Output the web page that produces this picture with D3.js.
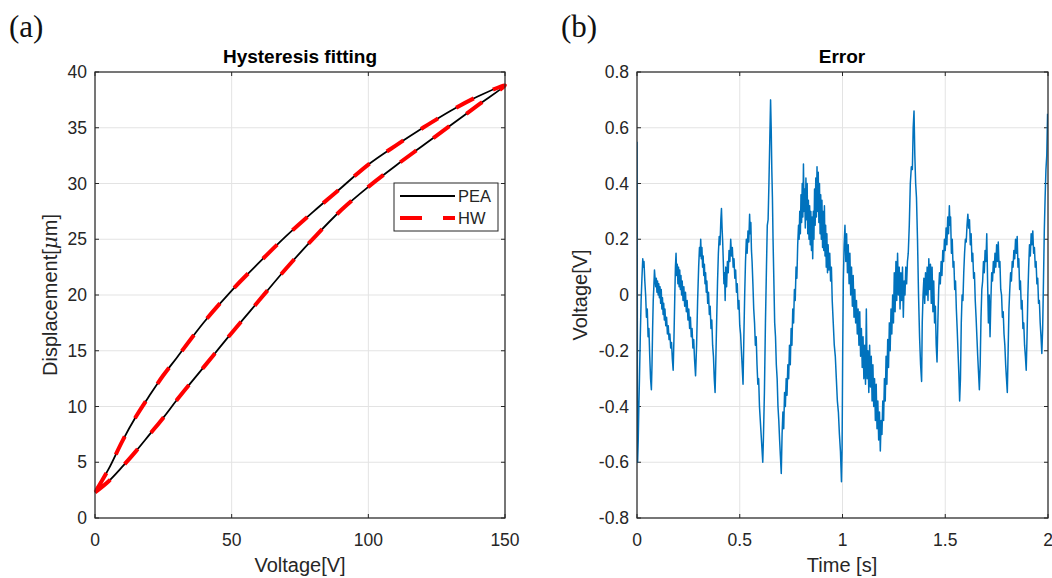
<!DOCTYPE html>
<html lang="en">
<head>
  <meta charset="UTF-8" />
  <title>Hysteresis fitting and error</title>
  <style>
    html, body {
      margin: 0;
      padding: 0;
      background: #fff;
    }
    svg {
      display: block;
      font-family: "Liberation Sans", Arial, sans-serif;
    }
  </style>
</head>
<body>
<svg id="chart" width="1052" height="578"></svg>

<script src="https://cdnjs.cloudflare.com/ajax/libs/d3/7.8.5/d3.min.js"></script>
<script>
  // (a) hysteresis loop
  const hystVoltage = [0, 5, 10, 15, 20, 25, 30, 40, 50, 60, 70, 80, 90, 100, 110, 120, 130, 140, 150];
  const dispRising  = [2.3, 3.3, 4.6, 6.0, 7.5, 9.0, 10.6, 13.6, 16.6, 19.5, 22.4, 25.1, 27.6, 29.7, 31.6, 33.4, 35.2, 37.0, 38.8];
  const dispFalling = [2.3, 4.4, 6.9, 9.1, 11.0, 12.8, 14.4, 17.6, 20.4, 22.9, 25.3, 27.5, 29.6, 31.7, 33.4, 35.0, 36.5, 37.8, 38.8];

  const hystXTicks = [0, 50, 100, 150];
  const hystYTicks = [0, 5, 10, 15, 20, 25, 30, 35, 40];

  // (b) fitting error [time s, voltage V]
  const errorPoints = [
    [0.000, 0.55], [0.001, 0.20], [0.002, -0.35], [0.003, -0.60], [0.006, -0.52], [0.009, -0.40],
    [0.012, -0.30], [0.016, -0.15], [0.020, -0.02], [0.024, 0.06], [0.028, 0.13], [0.031, 0.10],
    [0.034, 0.12], [0.038, 0.05], [0.042, 0.00], [0.046, -0.08], [0.050, -0.05], [0.054, -0.15],
    [0.058, -0.12], [0.062, -0.22], [0.066, -0.30], [0.070, -0.34], [0.073, -0.25], [0.076, -0.12],
    [0.079, -0.02], [0.082, 0.03], [0.085, 0.09], [0.088, 0.06], [0.091, 0.03], [0.094, 0.06],
    [0.097, 0.01], [0.100, 0.05], [0.103, 0.00], [0.106, 0.04], [0.109, -0.01], [0.112, 0.03],
    [0.115, -0.03], [0.118, 0.02], [0.121, -0.05], [0.124, -0.01], [0.127, -0.07], [0.130, -0.03],
    [0.133, -0.09], [0.136, -0.05], [0.140, -0.11], [0.144, -0.08], [0.148, -0.14], [0.152, -0.11],
    [0.156, -0.16], [0.160, -0.14], [0.164, -0.19], [0.168, -0.17], [0.172, -0.23], [0.176, -0.27],
    [0.180, -0.15], [0.184, 0.00], [0.187, 0.10], [0.190, 0.15], [0.193, 0.07], [0.196, 0.11],
    [0.199, 0.04], [0.202, 0.10], [0.205, 0.03], [0.208, 0.09], [0.211, 0.02], [0.214, 0.07],
    [0.217, 0.00], [0.220, 0.05], [0.224, -0.02], [0.228, 0.03], [0.232, -0.04], [0.236, 0.01],
    [0.240, -0.06], [0.244, -0.02], [0.248, -0.09], [0.252, -0.05], [0.256, -0.12], [0.260, -0.08],
    [0.264, -0.15], [0.268, -0.12], [0.272, -0.19], [0.276, -0.16], [0.280, -0.23], [0.285, -0.29],
    [0.290, -0.18], [0.295, -0.02], [0.300, 0.10], [0.304, 0.17], [0.307, 0.14], [0.310, 0.20],
    [0.313, 0.13], [0.316, 0.17], [0.319, 0.10], [0.322, 0.14], [0.325, 0.07], [0.328, 0.11],
    [0.331, 0.04], [0.334, 0.08], [0.337, 0.01], [0.340, 0.05], [0.344, -0.03], [0.348, 0.01],
    [0.352, -0.07], [0.356, -0.04], [0.360, -0.12], [0.364, -0.09], [0.368, -0.18], [0.372, -0.22],
    [0.376, -0.30], [0.380, -0.35], [0.384, -0.22], [0.388, -0.08], [0.392, 0.05], [0.396, 0.15],
    [0.400, 0.21], [0.404, 0.18], [0.408, 0.27], [0.411, 0.31], [0.414, 0.24], [0.417, 0.19],
    [0.420, 0.12], [0.423, 0.04], [0.426, 0.08], [0.429, -0.02], [0.432, 0.10], [0.436, 0.03],
    [0.440, 0.12], [0.444, 0.08], [0.448, 0.16], [0.452, 0.12], [0.456, 0.20], [0.460, 0.14],
    [0.464, 0.17], [0.468, 0.10], [0.472, 0.13], [0.476, 0.06], [0.480, 0.09], [0.484, 0.01],
    [0.488, 0.04], [0.492, -0.05], [0.496, -0.02], [0.500, -0.11], [0.504, -0.14], [0.508, -0.20],
    [0.512, -0.26], [0.516, -0.32], [0.520, -0.15], [0.524, 0.00], [0.528, 0.12], [0.532, 0.20],
    [0.536, 0.15], [0.540, 0.23], [0.544, 0.19], [0.548, 0.29], [0.551, 0.22], [0.554, 0.26],
    [0.557, 0.16], [0.560, 0.12], [0.564, 0.04], [0.568, -0.05], [0.572, -0.10], [0.576, -0.18],
    [0.580, -0.15], [0.584, -0.25], [0.588, -0.32], [0.592, -0.30], [0.596, -0.40], [0.600, -0.45],
    [0.604, -0.50], [0.608, -0.55], [0.612, -0.60], [0.615, -0.52], [0.620, -0.35], [0.625, -0.10],
    [0.630, 0.10], [0.634, 0.25], [0.638, 0.27], [0.642, 0.40], [0.646, 0.55], [0.650, 0.70],
    [0.653, 0.60], [0.656, 0.45], [0.659, 0.35], [0.662, 0.20], [0.666, 0.05], [0.670, -0.10],
    [0.674, -0.15], [0.678, -0.25], [0.682, -0.30], [0.686, -0.40], [0.690, -0.45], [0.694, -0.52],
    [0.698, -0.58], [0.702, -0.64], [0.706, -0.50], [0.710, -0.42], [0.714, -0.48], [0.718, -0.35],
    [0.722, -0.40], [0.726, -0.30], [0.730, -0.36], [0.734, -0.25], [0.738, -0.30], [0.742, -0.18],
    [0.746, -0.25], [0.750, -0.12], [0.754, -0.18], [0.758, -0.05], [0.762, -0.10], [0.766, 0.02],
    [0.770, -0.02], [0.774, 0.10], [0.778, 0.06], [0.782, 0.18], [0.786, 0.25], [0.789, 0.20],
    [0.792, 0.30], [0.795, 0.22], [0.798, 0.36], [0.801, 0.26], [0.804, 0.40], [0.807, 0.28],
    [0.810, 0.47], [0.813, 0.30], [0.816, 0.38], [0.819, 0.24], [0.822, 0.42], [0.825, 0.27],
    [0.828, 0.40], [0.831, 0.22], [0.834, 0.34], [0.837, 0.20], [0.840, 0.32], [0.843, 0.18],
    [0.846, 0.30], [0.849, 0.16], [0.852, 0.28], [0.855, 0.13], [0.858, 0.30], [0.861, 0.20],
    [0.864, 0.38], [0.867, 0.25], [0.870, 0.42], [0.873, 0.28], [0.876, 0.46], [0.879, 0.30],
    [0.882, 0.44], [0.885, 0.26], [0.888, 0.40], [0.891, 0.22], [0.894, 0.36], [0.897, 0.20],
    [0.900, 0.34], [0.903, 0.17], [0.906, 0.30], [0.909, 0.16], [0.912, 0.32], [0.915, 0.14],
    [0.918, 0.25], [0.921, 0.10], [0.924, 0.22], [0.927, 0.08], [0.930, 0.18], [0.934, 0.09],
    [0.938, 0.15], [0.942, 0.05], [0.946, 0.10], [0.950, -0.02], [0.955, -0.10], [0.960, -0.18],
    [0.965, -0.22], [0.970, -0.30], [0.975, -0.38], [0.980, -0.42], [0.985, -0.50], [0.990, -0.56],
    [0.995, -0.67], [0.998, -0.55], [1.001, -0.20], [1.004, 0.05], [1.008, 0.18], [1.012, 0.25],
    [1.016, 0.12], [1.020, 0.22], [1.024, 0.08], [1.028, 0.18], [1.032, 0.04], [1.036, 0.15],
    [1.040, 0.00], [1.044, 0.10], [1.048, -0.04], [1.052, 0.07], [1.056, -0.08], [1.060, 0.02],
    [1.064, -0.10], [1.068, -0.02], [1.072, -0.14], [1.076, -0.05], [1.080, -0.18], [1.084, -0.06],
    [1.088, -0.22], [1.092, -0.12], [1.096, -0.26], [1.100, -0.15], [1.104, -0.30], [1.108, -0.18],
    [1.112, -0.32], [1.116, -0.05], [1.120, -0.30], [1.124, -0.20], [1.128, -0.35], [1.132, -0.18],
    [1.136, -0.33], [1.140, -0.22], [1.144, -0.38], [1.148, -0.25], [1.152, -0.40], [1.156, -0.30],
    [1.160, -0.45], [1.164, -0.32], [1.168, -0.48], [1.172, -0.38], [1.176, -0.52], [1.180, -0.42],
    [1.184, -0.56], [1.188, -0.45], [1.192, -0.50], [1.196, -0.38], [1.200, -0.45], [1.204, -0.30],
    [1.208, -0.38], [1.212, -0.22], [1.216, -0.32], [1.220, -0.16], [1.224, -0.26], [1.228, -0.10],
    [1.232, -0.20], [1.236, -0.05], [1.240, -0.14], [1.244, 0.00], [1.248, -0.10], [1.252, 0.08],
    [1.256, -0.06], [1.260, 0.12], [1.264, -0.02], [1.268, 0.15], [1.272, 0.00], [1.276, 0.10],
    [1.280, -0.05], [1.284, 0.08], [1.288, -0.02], [1.292, 0.10], [1.296, -0.08], [1.300, 0.05],
    [1.304, 0.00], [1.308, 0.10], [1.312, 0.04], [1.316, 0.12], [1.320, 0.15], [1.325, 0.25],
    [1.330, 0.40], [1.335, 0.46], [1.340, 0.45], [1.344, 0.60], [1.348, 0.66], [1.352, 0.50],
    [1.356, 0.40], [1.360, 0.35], [1.365, 0.20], [1.370, 0.00], [1.375, -0.15], [1.380, -0.25],
    [1.385, -0.31], [1.388, -0.10], [1.392, 0.00], [1.396, 0.06], [1.400, -0.03], [1.404, 0.08],
    [1.408, 0.00], [1.412, 0.10], [1.416, -0.02], [1.420, 0.13], [1.424, 0.02], [1.428, 0.11],
    [1.432, -0.03], [1.436, 0.10], [1.440, -0.06], [1.444, 0.05], [1.448, -0.10], [1.452, -0.04],
    [1.456, -0.18], [1.460, -0.24], [1.464, -0.10], [1.468, 0.02], [1.472, 0.08], [1.476, 0.04],
    [1.480, 0.12], [1.484, 0.07], [1.488, 0.16], [1.492, 0.12], [1.496, 0.20], [1.500, 0.16],
    [1.504, 0.24], [1.508, 0.18], [1.512, 0.28], [1.516, 0.22], [1.520, 0.32], [1.523, 0.25],
    [1.526, 0.28], [1.530, 0.15], [1.534, 0.20], [1.538, 0.10], [1.542, 0.12], [1.546, 0.02],
    [1.550, 0.05], [1.554, -0.05], [1.558, -0.12], [1.562, -0.20], [1.566, -0.28], [1.570, -0.38],
    [1.574, -0.30], [1.578, -0.10], [1.582, 0.00], [1.586, -0.02], [1.590, 0.08], [1.594, 0.15],
    [1.598, 0.20], [1.602, 0.19], [1.606, 0.25], [1.610, 0.29], [1.614, 0.24], [1.618, 0.27],
    [1.622, 0.18], [1.626, 0.22], [1.630, 0.12], [1.634, 0.15], [1.638, 0.06], [1.642, 0.08],
    [1.646, -0.02], [1.650, -0.08], [1.654, -0.15], [1.658, -0.22], [1.662, -0.28], [1.666, -0.34],
    [1.670, -0.25], [1.674, -0.08], [1.678, 0.02], [1.682, 0.05], [1.686, 0.12], [1.690, 0.08],
    [1.694, 0.16], [1.698, 0.12], [1.702, 0.22], [1.706, 0.05], [1.710, -0.10], [1.714, 0.00],
    [1.718, -0.15], [1.722, -0.02], [1.726, 0.08], [1.730, 0.05], [1.734, 0.12], [1.738, 0.08],
    [1.742, 0.15], [1.746, 0.10], [1.750, 0.18], [1.754, 0.12], [1.758, 0.19], [1.762, 0.10],
    [1.766, 0.12], [1.770, 0.02], [1.774, 0.00], [1.778, -0.08], [1.782, -0.06], [1.786, -0.14],
    [1.790, -0.18], [1.794, -0.25], [1.798, -0.30], [1.802, -0.35], [1.806, -0.20], [1.810, -0.05],
    [1.814, 0.02], [1.818, 0.08], [1.822, 0.05], [1.826, 0.12], [1.830, 0.10], [1.834, 0.16],
    [1.838, 0.13], [1.842, 0.20], [1.846, 0.15], [1.850, 0.21], [1.854, 0.10], [1.858, 0.13],
    [1.862, 0.02], [1.866, 0.05], [1.870, -0.05], [1.874, -0.02], [1.878, -0.12], [1.882, -0.10],
    [1.886, -0.18], [1.890, -0.22], [1.894, -0.27], [1.898, -0.15], [1.902, 0.00], [1.906, 0.10],
    [1.910, 0.18], [1.914, 0.14], [1.918, 0.22], [1.922, 0.18], [1.926, 0.23], [1.930, 0.15],
    [1.934, 0.17], [1.938, 0.10], [1.942, 0.12], [1.946, 0.04], [1.950, 0.06], [1.954, -0.03],
    [1.958, -0.02], [1.962, -0.10], [1.966, -0.15], [1.970, -0.21], [1.974, -0.12], [1.978, 0.05],
    [1.982, 0.23], [1.986, 0.35], [1.990, 0.45], [1.994, 0.50], [1.998, 0.65]
  ];

  const errXTicks = [0, 0.5, 1, 1.5, 2];
  const errYTicks = [-0.8, -0.6, -0.4, -0.2, 0, 0.2, 0.4, 0.6, 0.8];

  const legendItems = ["PEA", "HW"];

  const svg = d3.select("#chart");
  const axisColor = "#262626";
  const gridColor = "#e3e3e3";

  // frame, grid, inward ticks on all four sides, tick labels
  function drawAxes(x, y, xTicks, yTicks) {
    const [x0, x1] = x.range();
    const [y0, y1] = y.range();
    const g = svg.append("g");

    g.selectAll(".vgrid").data(xTicks).enter().append("line")
      .attr("x1", d => x(d)).attr("x2", d => x(d))
      .attr("y1", y0).attr("y2", y1)
      .attr("stroke", gridColor).attr("stroke-width", 1);
    g.selectAll(".hgrid").data(yTicks).enter().append("line")
      .attr("x1", x0).attr("x2", x1)
      .attr("y1", d => y(d)).attr("y2", d => y(d))
      .attr("stroke", gridColor).attr("stroke-width", 1);

    const tl = 4;
    xTicks.forEach(t => {
      g.append("line").attr("x1", x(t)).attr("x2", x(t)).attr("y1", y0).attr("y2", y0 - tl)
        .attr("stroke", axisColor);
      g.append("line").attr("x1", x(t)).attr("x2", x(t)).attr("y1", y1).attr("y2", y1 + tl)
        .attr("stroke", axisColor);
    });
    yTicks.forEach(t => {
      g.append("line").attr("x1", x0).attr("x2", x0 + tl).attr("y1", y(t)).attr("y2", y(t))
        .attr("stroke", axisColor);
      g.append("line").attr("x1", x1).attr("x2", x1 - tl).attr("y1", y(t)).attr("y2", y(t))
        .attr("stroke", axisColor);
    });

    // MATLAB style labels: plain hyphen for negatives
    g.selectAll(".xlab").data(xTicks).enter().append("text")
      .attr("x", d => x(d)).attr("y", y0 + 28)
      .attr("text-anchor", "middle")
      .attr("font-size", "17.5px").attr("fill", axisColor)
      .text(d => String(d));
    g.selectAll(".ylab").data(yTicks).enter().append("text")
      .attr("x", x0 - 8).attr("y", d => y(d) + 6)
      .attr("text-anchor", "end")
      .attr("font-size", "17.5px").attr("fill", axisColor)
      .text(d => String(d));
    return g;
  }

  function drawBox(x, y) {
    const [x0, x1] = x.range();
    const [y0, y1] = y.range();
    svg.append("rect")
      .attr("x", x0).attr("y", y1)
      .attr("width", x1 - x0).attr("height", y0 - y1)
      .attr("fill", "none").attr("stroke", axisColor).attr("stroke-width", 1.2);
  }

  // ---------- (a) Hysteresis fitting ----------
  const xA = d3.scaleLinear().domain([0, 150]).range([95, 505]);
  const yA = d3.scaleLinear().domain([0, 40]).range([518, 72]);

  drawAxes(xA, yA, hystXTicks, hystYTicks);

  const loop = hystVoltage.map((v, i) => [v, dispRising[i]])
    .concat(hystVoltage.slice().reverse().map((v, i) => [v, dispFalling[dispFalling.length - 1 - i]]).slice(1));

  const hystLine = d3.line()
    .x(d => xA(d[0]))
    .y(d => yA(d[1]))
    .curve(d3.curveCatmullRom);

  svg.append("path")
    .datum(loop)
    .attr("d", hystLine)
    .attr("fill", "none")
    .attr("stroke", "#000")
    .attr("stroke-width", 1.8);

  svg.append("path")
    .datum(loop)
    .attr("d", hystLine)
    .attr("fill", "none")
    .attr("stroke", "#ff0000")
    .attr("stroke-width", 4)
    .attr("stroke-dasharray", "20,21");

  drawBox(xA, yA);

  // legend
  const leg = svg.append("g").attr("transform", "translate(394,183)");
  leg.append("rect")
    .attr("width", 104).attr("height", 48)
    .attr("fill", "#fff").attr("stroke", axisColor).attr("stroke-width", 1);
  leg.append("line")
    .attr("x1", 6).attr("x2", 61).attr("y1", 13).attr("y2", 13)
    .attr("stroke", "#000").attr("stroke-width", 2);
  leg.append("line")
    .attr("x1", 6).attr("x2", 61).attr("y1", 35).attr("y2", 35)
    .attr("stroke", "#ff0000").attr("stroke-width", 4)
    .attr("stroke-dasharray", "22,21");
  leg.selectAll(".legtext").data(legendItems).enter().append("text")
    .attr("x", 64).attr("y", (d, i) => 19 + i * 22)
    .attr("font-size", "16.5px").attr("fill", axisColor)
    .text(d => d);

  svg.append("text")
    .attr("x", 300).attr("y", 63)
    .attr("text-anchor", "middle")
    .attr("font-size", "19px").attr("font-weight", "bold")
    .attr("fill", "#000")
    .text("Hysteresis fitting");

  svg.append("text")
    .attr("x", 300).attr("y", 572)
    .attr("text-anchor", "middle")
    .attr("font-size", "20px").attr("fill", axisColor)
    .text("Voltage[V]");

  const yTitleA = svg.append("text")
    .attr("transform", "translate(57,295) rotate(-90)")
    .attr("text-anchor", "middle")
    .attr("font-size", "20px").attr("fill", axisColor);
  yTitleA.append("tspan").text("Displacement[");
  yTitleA.append("tspan").attr("font-style", "italic").attr("font-family", "DejaVu Serif, serif").text("μ");
  yTitleA.append("tspan").text("m]");

  // ---------- (b) Error ----------
  const xB = d3.scaleLinear().domain([0, 2]).range([637, 1048]);
  const yB = d3.scaleLinear().domain([-0.8, 0.8]).range([518, 72]);

  drawAxes(xB, yB, errXTicks, errYTicks);

  svg.append("clipPath").attr("id", "clipB")
    .append("rect").attr("x", 637).attr("y", 72).attr("width", 411).attr("height", 446);

  svg.append("path")
    .datum(errorPoints)
    .attr("clip-path", "url(#clipB)")
    .attr("d", d3.line().x(d => xB(d[0])).y(d => yB(d[1])))
    .attr("fill", "none")
    .attr("stroke", "#0072bd")
    .attr("stroke-width", 1.5)
    .attr("stroke-linejoin", "round");

  drawBox(xB, yB);

  svg.append("text")
    .attr("x", 842).attr("y", 63)
    .attr("text-anchor", "middle")
    .attr("font-size", "19px").attr("font-weight", "bold")
    .attr("fill", "#000")
    .text("Error");

  svg.append("text")
    .attr("x", 842).attr("y", 572)
    .attr("text-anchor", "middle")
    .attr("font-size", "20px").attr("fill", axisColor)
    .text("Time [s]");

  svg.append("text")
    .attr("transform", "translate(587,295) rotate(-90)")
    .attr("text-anchor", "middle")
    .attr("font-size", "20px").attr("fill", axisColor)
    .text("Voltage[V]");

  // panel letters
  svg.append("text")
    .attr("x", 9).attr("y", 37)
    .attr("font-family", "Liberation Serif, serif")
    .attr("font-size", "31px").attr("fill", "#111")
    .text("(a)");
  svg.append("text")
    .attr("x", 561).attr("y", 37)
    .attr("font-family", "Liberation Serif, serif")
    .attr("font-size", "31px").attr("fill", "#111")
    .text("(b)");
</script>
</body>
</html>
